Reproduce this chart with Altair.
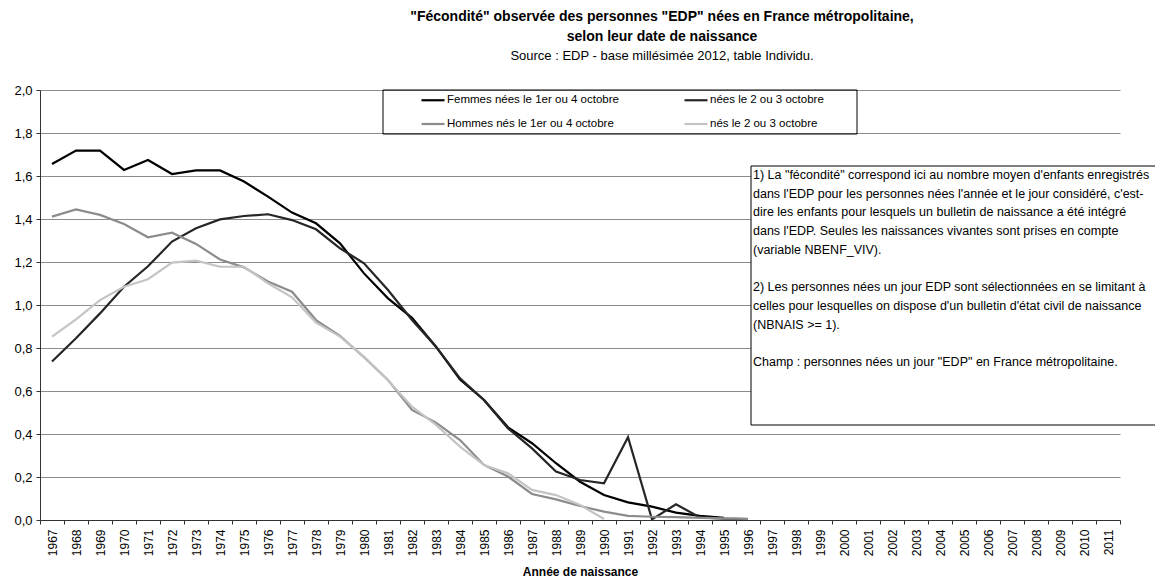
import altair as alt
import pandas as pd

FONT = "Liberation Sans"

# ---- data ----
all_years = list(range(1967, 2012))

years_f14 = list(range(1967, 1996))
femmes_14 = [1.656, 1.718, 1.718, 1.628, 1.674, 1.609, 1.626, 1.626, 1.574, 1.504,
             1.430, 1.380, 1.287, 1.147, 1.031, 0.940, 0.806, 0.654, 0.558, 0.431,
             0.357, 0.264, 0.178, 0.116, 0.082, 0.062, 0.034, 0.019, 0.010]

years_f23 = list(range(1967, 1997))
femmes_23 = [0.737, 0.845, 0.961, 1.085, 1.180, 1.295, 1.357, 1.398, 1.414, 1.422,
             1.395, 1.352, 1.264, 1.194, 1.070, 0.930, 0.806, 0.659, 0.558, 0.426,
             0.333, 0.225, 0.186, 0.171, 0.385, 0.003, 0.073, 0.012, 0.006, 0.004]

years_h14 = list(range(1967, 1997))
hommes_14 = [1.411, 1.445, 1.419, 1.377, 1.315, 1.336, 1.284, 1.212, 1.175, 1.109,
             1.062, 0.930, 0.856, 0.757, 0.651, 0.512, 0.453, 0.372, 0.256, 0.202,
             0.121, 0.096, 0.065, 0.039, 0.019, 0.015, 0.013, 0.010, 0.008, 0.005]

years_h23 = list(range(1967, 1991))
hommes_23 = [0.853, 0.933, 1.023, 1.085, 1.120, 1.197, 1.206, 1.178, 1.178, 1.101,
             1.036, 0.918, 0.853, 0.760, 0.650, 0.527, 0.442, 0.341, 0.256, 0.217,
             0.140, 0.116, 0.070, 0.005]

# legend order: column 1 = 1er/4 octobre, column 2 = 2/3 octobre
series_names = ["Femmes nées le 1er ou 4 octobre", "Hommes nés le 1er ou 4 octobre",
                "nées le 2 ou 3 octobre", "nés le 2 ou 3 octobre"]
series_colors = ["#000000", "#8c8c8c", "#262626", "#c4c4c4"]
series_widths = [2.2, 2.2, 1, 1]

y_ticks = [0.0, 0.2, 0.4, 0.6, 0.8, 1.0, 1.2, 1.4, 1.6, 1.8, 2.0]

title_line1 = "\"Fécondité\" observée des personnes \"EDP\" nées en France métropolitaine,"
title_line2 = "selon leur date de naissance"
source_line = "Source : EDP - base millésimée 2012, table Individu."
note_par1 = [
    "1) La \"fécondité\" correspond ici au nombre moyen d'enfants enregistrés",
    "dans l'EDP pour les personnes nées l'année et le jour considéré, c'est-",
    "dire les enfants pour lesquels un bulletin de naissance a été  intégré",
    "dans l'EDP. Seules les naissances vivantes sont prises en compte",
    "(variable NBENF_VIV).",
]
note_par2 = [
    "2) Les personnes nées un jour EDP sont sélectionnées en se limitant à",
    "celles pour lesquelles on dispose d'un bulletin d'état civil de naissance",
    "(NBNAIS >= 1).",
]
note_par3 = [
    "Champ : personnes nées un jour \"EDP\" en France métropolitaine.",
]

rows = []
for name, yrs, vals in [("Femmes nées le 1er ou 4 octobre", years_f14, femmes_14),
                        ("nées le 2 ou 3 octobre", years_f23, femmes_23),
                        ("Hommes nés le 1er ou 4 octobre", years_h14, hommes_14),
                        ("nés le 2 ou 3 octobre", years_h23, hommes_23)]:
    for yv, v in zip(yrs, vals):
        rows.append({"annee": yv, "valeur": v, "serie": name})
df = pd.DataFrame(rows)

one = pd.DataFrame({"k": [0]})

legend = alt.Legend(
    title=None, orient="none", legendX=380, legendY=-3, columns=2,
    columnPadding=61, rowPadding=5, symbolType="stroke", symbolSize=529,
    labelFont=FONT, labelFontSize=11.5, labelColor="#000", labelOffset=1,
    padding=0, labelLimit=400,
)

lines = alt.Chart(df).mark_line().encode(
    x=alt.X("annee:O",
            scale=alt.Scale(type="band", domain=all_years, paddingInner=0, paddingOuter=0),
            axis=alt.Axis(title="Année de naissance", labelAngle=270, tickBand="extent",
                          tickSize=4, labelPadding=5, labelFont=FONT, labelFontSize=12,
                          labelColor="#000", titleFont=FONT, titleFontSize=12,
                          titleFontWeight="bold", titleColor="#000", titlePadding=11,
                          domainColor="#333", tickColor="#333", grid=False)),
    y=alt.Y("valeur:Q",
            scale=alt.Scale(domain=[0, 2], nice=False, zero=True),
            axis=alt.Axis(title=None, values=y_ticks,
                          labelExpr="replace(format(datum.value, '.1f'), '.', ',')",
                          tickSize=4, labelPadding=4, labelFont=FONT, labelFontSize=13,
                          labelColor="#000", domainColor="#333", tickColor="#333",
                          grid=True, gridColor="#8c8c8c", gridWidth=1)),
    color=alt.Color("serie:N",
                    scale=alt.Scale(domain=series_names, range=series_colors),
                    legend=legend),
    strokeWidth=alt.StrokeWidth("serie:N",
                                scale=alt.Scale(domain=series_names, range=series_widths),
                                legend=legend),
    detail="serie:N",
)

legend_box = alt.Chart(one).mark_rect(fill="white", fillOpacity=0, stroke="#000", strokeWidth=1).encode(
    x=alt.value(343), x2=alt.value(817), y=alt.value(0), y2=alt.value(44)
)

note_box = alt.Chart(one).mark_rect(fill="white", stroke="#000", strokeWidth=1).encode(
    x=alt.value(711), x2=alt.value(1135), y=alt.value(76), y2=alt.value(335)
)


def note(par, ytop):
    return alt.Chart(one).mark_text(
        align="left", baseline="top", font=FONT, fontSize=12.5, color="#000",
        lineBreak="\n", lineHeight=18.7
    ).encode(x=alt.value(713), y=alt.value(ytop), text=alt.value("\n".join(par)))


n1 = note(note_par1, 79)
n2 = note(note_par2, 79 + 6 * 18.7)
n3 = note(note_par3, 79 + 10 * 18.7)

t1 = alt.Chart(one).mark_text(align="center", baseline="middle", font=FONT, fontSize=14,
                              fontWeight="bold", color="#000").encode(
    x=alt.value(622), y=alt.value(-73), text=alt.value(title_line1))
t2 = alt.Chart(one).mark_text(align="center", baseline="middle", font=FONT, fontSize=14,
                              fontWeight="bold", color="#000").encode(
    x=alt.value(622), y=alt.value(-53), text=alt.value(title_line2))
t3 = alt.Chart(one).mark_text(align="center", baseline="middle", font=FONT, fontSize=13,
                              color="#000").encode(
    x=alt.value(622), y=alt.value(-34), text=alt.value(source_line))

chart = alt.layer(note_box, lines, legend_box, n1, n2, n3, t1, t2, t3).properties(
    width=1080, height=430,
    autosize=alt.AutoSizeParams(type="none"),
    padding={"left": 32, "top": 82, "right": 35, "bottom": 58},
    background="white",
).configure_view(stroke=None)

chart.save("out.html", embed_options={"renderer": "svg", "actions": False})
